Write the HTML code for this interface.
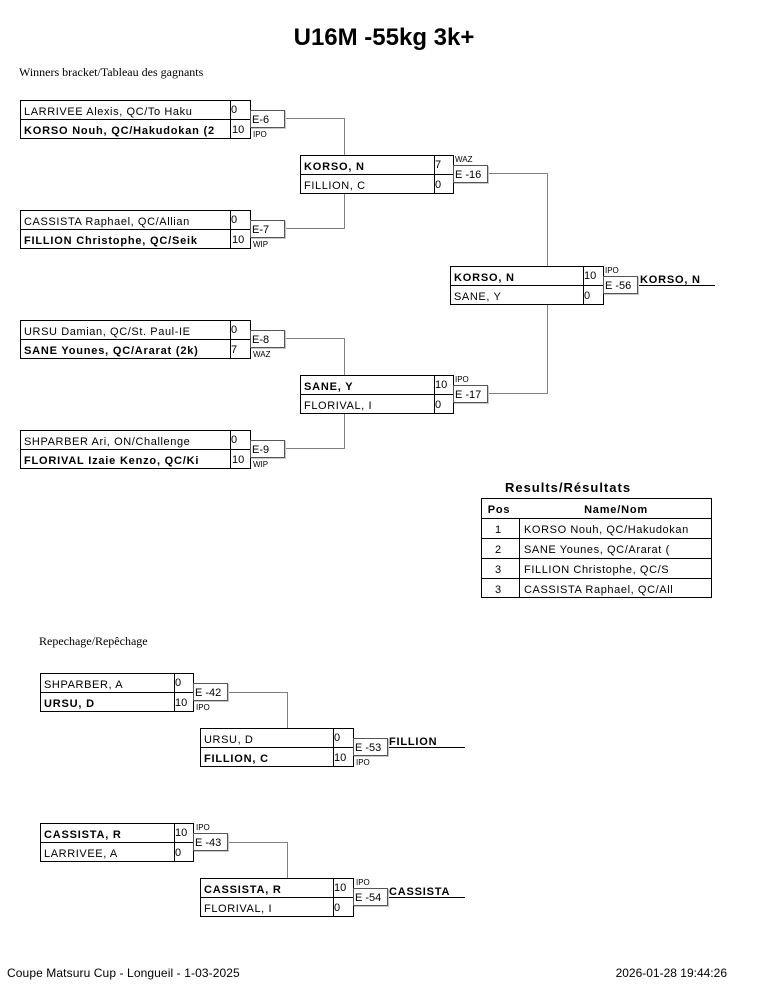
<!DOCTYPE html>
<html>
<head>
<meta charset="utf-8">
<style>
  html, body { margin:0; padding:0; background:#fff; }
  body { width:765px; height:990px; overflow:hidden; }
  svg { display:block; }
  .n { font-family:"Liberation Sans", sans-serif; font-size:11px; letter-spacing:0.6px; fill:#000; }
  .b { font-family:"Liberation Sans", sans-serif; font-size:11px; font-weight:bold; letter-spacing:0.8px; fill:#000; }
  .s { font-family:"Liberation Sans", sans-serif; font-size:11px; fill:#000; }
  .e { font-family:"Liberation Sans", sans-serif; font-size:11px; fill:#000; }
  .t { font-family:"Liberation Sans", sans-serif; font-size:8px; fill:#000; }
  .ser { font-family:"Liberation Serif", serif; font-size:12px; fill:#000; }
  .foot { font-family:"Liberation Sans", sans-serif; font-size:12px; fill:#000; }
</style>
</head>
<body>
<svg width="765" height="990" viewBox="0 0 765 990" xmlns="http://www.w3.org/2000/svg">
  <!-- Title -->
  <text x="384" y="45" text-anchor="middle" style="font-family:'Liberation Sans',sans-serif;font-size:24px;font-weight:bold;">U16M -55kg 3k+</text>
  <text x="19" y="76" class="ser">Winners bracket/Tableau des gagnants</text>

  <!-- Connectors (winners) -->
  <g stroke="#808080" stroke-width="1" fill="none">
    <polyline points="284,118.5 344.5,118.5 344.5,228.5 284,228.5"/>
    <polyline points="284,338.5 344.5,338.5 344.5,448.5 284,448.5"/>
    <polyline points="487,173.5 547.5,173.5 547.5,393.5 487,393.5"/>
    <!-- repechage -->
    <polyline points="227,692.5 287.5,692.5 287.5,728"/>
    <polyline points="227,842.5 287.5,842.5 287.5,878"/>
  </g>
  <!-- winner lines -->
  <g stroke="#000" stroke-width="1">
    <line x1="637" y1="285.5" x2="715" y2="285.5"/>
    <line x1="387" y1="747.5" x2="465" y2="747.5"/>
    <line x1="387" y1="897.5" x2="465" y2="897.5"/>
  </g>

  <!-- Round 1 boxes -->
  <g fill="#fff" stroke="#000" stroke-width="1">
    <rect x="20.5" y="100.5" width="230" height="38"/>
    <line x1="20.5" y1="119.5" x2="250.5" y2="119.5"/>
    <line x1="230.5" y1="100.5" x2="230.5" y2="138.5"/>

    <rect x="20.5" y="210.5" width="230" height="38"/>
    <line x1="20.5" y1="229.5" x2="250.5" y2="229.5"/>
    <line x1="230.5" y1="210.5" x2="230.5" y2="248.5"/>

    <rect x="20.5" y="320.5" width="230" height="38"/>
    <line x1="20.5" y1="339.5" x2="250.5" y2="339.5"/>
    <line x1="230.5" y1="320.5" x2="230.5" y2="358.5"/>

    <rect x="20.5" y="430.5" width="230" height="38"/>
    <line x1="20.5" y1="449.5" x2="250.5" y2="449.5"/>
    <line x1="230.5" y1="430.5" x2="230.5" y2="468.5"/>

    <!-- Round 2 -->
    <rect x="300.5" y="155.5" width="153" height="38"/>
    <line x1="300.5" y1="174.5" x2="453.5" y2="174.5"/>
    <line x1="434.5" y1="155.5" x2="434.5" y2="193.5"/>

    <rect x="300.5" y="375.5" width="153" height="38"/>
    <line x1="300.5" y1="394.5" x2="453.5" y2="394.5"/>
    <line x1="434.5" y1="375.5" x2="434.5" y2="413.5"/>

    <!-- Final -->
    <rect x="450.5" y="266.5" width="153" height="38"/>
    <line x1="450.5" y1="285.5" x2="603.5" y2="285.5"/>
    <line x1="583.5" y1="266.5" x2="583.5" y2="304.5"/>

    <!-- Repechage -->
    <rect x="40.5" y="673.5" width="153" height="38"/>
    <line x1="40.5" y1="692.5" x2="193.5" y2="692.5"/>
    <line x1="174.5" y1="673.5" x2="174.5" y2="711.5"/>

    <rect x="200.5" y="728.5" width="153" height="38"/>
    <line x1="200.5" y1="747.5" x2="353.5" y2="747.5"/>
    <line x1="333.5" y1="728.5" x2="333.5" y2="766.5"/>

    <rect x="40.5" y="823.5" width="153" height="38"/>
    <line x1="40.5" y1="842.5" x2="193.5" y2="842.5"/>
    <line x1="174.5" y1="823.5" x2="174.5" y2="861.5"/>

    <rect x="200.5" y="878.5" width="153" height="38"/>
    <line x1="200.5" y1="897.5" x2="353.5" y2="897.5"/>
    <line x1="333.5" y1="878.5" x2="333.5" y2="916.5"/>
  </g>

  <!-- E boxes shadows -->
  <g stroke="#c8c8c8" stroke-width="1" fill="none">
    <polyline points="285.5,111 285.5,128.5 251,128.5"/>
    <polyline points="285.5,221 285.5,238.5 251,238.5"/>
    <polyline points="285.5,331 285.5,348.5 251,348.5"/>
    <polyline points="285.5,441 285.5,458.5 251,458.5"/>
    <polyline points="488.5,166 488.5,183.5 454,183.5"/>
    <polyline points="488.5,386 488.5,403.5 454,403.5"/>
    <polyline points="638.5,277 638.5,294.5 604,294.5"/>
    <polyline points="228.5,684 228.5,701.5 194,701.5"/>
    <polyline points="388.5,739 388.5,756.5 354,756.5"/>
    <polyline points="228.5,834 228.5,851.5 194,851.5"/>
    <polyline points="388.5,889 388.5,906.5 354,906.5"/>
  </g>
  <!-- E boxes -->
  <g fill="#fff" stroke="#555" stroke-width="1">
    <rect x="250.5" y="110.5" width="34" height="17"/>
    <rect x="250.5" y="220.5" width="34" height="17"/>
    <rect x="250.5" y="330.5" width="34" height="17"/>
    <rect x="250.5" y="440.5" width="34" height="17"/>
    <rect x="453.5" y="165.5" width="34" height="17"/>
    <rect x="453.5" y="385.5" width="34" height="17"/>
    <rect x="603.5" y="276.5" width="34" height="17"/>
    <rect x="193.5" y="683.5" width="34" height="17"/>
    <rect x="353.5" y="738.5" width="34" height="17"/>
    <rect x="193.5" y="833.5" width="34" height="17"/>
    <rect x="353.5" y="888.5" width="34" height="17"/>
  </g>

  <!-- Round 1 text -->
  <text x="24" y="115" class="n">LARRIVEE Alexis, QC/To Haku</text>
  <text x="24" y="134" class="b">KORSO Nouh, QC/Hakudokan (2</text>
  <text x="231" y="113" class="s">0</text>
  <text x="232" y="133" class="s">10</text>
  <text x="252" y="123" class="e">E-6</text>
  <text x="253" y="137" class="t">IPO</text>

  <text x="24" y="225" class="n">CASSISTA Raphael, QC/Allian</text>
  <text x="24" y="244" class="b">FILLION Christophe, QC/Seik</text>
  <text x="231" y="223" class="s">0</text>
  <text x="232" y="243" class="s">10</text>
  <text x="252" y="233" class="e">E-7</text>
  <text x="253" y="247" class="t">WIP</text>

  <text x="24" y="335" class="n">URSU Damian, QC/St. Paul-IE</text>
  <text x="24" y="354" class="b">SANE Younes, QC/Ararat (2k)</text>
  <text x="231" y="333" class="s">0</text>
  <text x="231" y="353" class="s">7</text>
  <text x="252" y="343" class="e">E-8</text>
  <text x="253" y="357" class="t">WAZ</text>

  <text x="24" y="445" class="n">SHPARBER Ari, ON/Challenge</text>
  <text x="24" y="464" class="b">FLORIVAL Izaie Kenzo, QC/Ki</text>
  <text x="231" y="443" class="s">0</text>
  <text x="232" y="463" class="s">10</text>
  <text x="252" y="453" class="e">E-9</text>
  <text x="253" y="467" class="t">WIP</text>

  <!-- Round 2 text -->
  <text x="304" y="170" class="b">KORSO, N</text>
  <text x="304" y="189" class="n">FILLION, C</text>
  <text x="435" y="168" class="s">7</text>
  <text x="435" y="188" class="s">0</text>
  <text x="455" y="178" class="e">E -16</text>
  <text x="455" y="162" class="t">WAZ</text>

  <text x="304" y="390" class="b">SANE, Y</text>
  <text x="304" y="409" class="n">FLORIVAL, I</text>
  <text x="435" y="388" class="s">10</text>
  <text x="435" y="408" class="s">0</text>
  <text x="455" y="398" class="e">E -17</text>
  <text x="455" y="382" class="t">IPO</text>

  <!-- Final text -->
  <text x="454" y="281" class="b">KORSO, N</text>
  <text x="454" y="300" class="n">SANE, Y</text>
  <text x="584" y="279" class="s">10</text>
  <text x="584" y="299" class="s">0</text>
  <text x="605" y="289" class="e">E -56</text>
  <text x="605" y="273" class="t">IPO</text>
  <text x="640" y="283" class="b">KORSO, N</text>

  <!-- Results -->
  <text x="568" y="492" text-anchor="middle" style="font-family:'Liberation Sans',sans-serif;font-size:13px;font-weight:bold;letter-spacing:1px;">Results/Résultats</text>
  <g fill="#fff" stroke="#000" stroke-width="1">
    <rect x="481.5" y="498.5" width="230" height="99"/>
  </g>
  <g stroke="#000" stroke-width="1">
    <line x1="481.5" y1="518.5" x2="711.5" y2="518.5"/>
    <line x1="519.5" y1="518.5" x2="519.5" y2="597.5"/>
    <line x1="481.5" y1="538.5" x2="711.5" y2="538.5"/>
    <line x1="481.5" y1="558.5" x2="711.5" y2="558.5"/>
    <line x1="481.5" y1="578.5" x2="711.5" y2="578.5"/>
  </g>
  <text x="499" y="513" text-anchor="middle" class="b">Pos</text>
  <text x="616" y="513" text-anchor="middle" class="b">Name/Nom</text>
  <text x="498" y="533" text-anchor="middle" class="s">1</text>
  <text x="498" y="553" text-anchor="middle" class="s">2</text>
  <text x="498" y="573" text-anchor="middle" class="s">3</text>
  <text x="498" y="593" text-anchor="middle" class="s">3</text>
  <text x="524" y="533" class="n">KORSO Nouh, QC/Hakudokan</text>
  <text x="524" y="553" class="n">SANE Younes, QC/Ararat (</text>
  <text x="524" y="573" class="n">FILLION Christophe, QC/S</text>
  <text x="524" y="593" class="n">CASSISTA Raphael, QC/All</text>

  <!-- Repechage -->
  <text x="39" y="645" class="ser">Repechage/Repêchage</text>

  <text x="44" y="688" class="n">SHPARBER, A</text>
  <text x="44" y="707" class="b">URSU, D</text>
  <text x="175" y="686" class="s">0</text>
  <text x="175" y="706" class="s">10</text>
  <text x="195" y="696" class="e">E -42</text>
  <text x="196" y="710" class="t">IPO</text>

  <text x="204" y="743" class="n">URSU, D</text>
  <text x="204" y="762" class="b">FILLION, C</text>
  <text x="334" y="741" class="s">0</text>
  <text x="334" y="761" class="s">10</text>
  <text x="355" y="751" class="e">E -53</text>
  <text x="356" y="765" class="t">IPO</text>
  <text x="389" y="745" class="b">FILLION</text>

  <text x="44" y="838" class="b">CASSISTA, R</text>
  <text x="44" y="857" class="n">LARRIVEE, A</text>
  <text x="175" y="836" class="s">10</text>
  <text x="175" y="856" class="s">0</text>
  <text x="195" y="846" class="e">E -43</text>
  <text x="196" y="830" class="t">IPO</text>

  <text x="204" y="893" class="b">CASSISTA, R</text>
  <text x="204" y="912" class="n">FLORIVAL, I</text>
  <text x="334" y="891" class="s">10</text>
  <text x="334" y="911" class="s">0</text>
  <text x="355" y="901" class="e">E -54</text>
  <text x="356" y="885" class="t">IPO</text>
  <text x="389" y="895" class="b">CASSISTA</text>

  <!-- Footer -->
  <text x="7" y="977" class="foot" style="letter-spacing:0.1px;">Coupe Matsuru Cup - Longueil - 1-03-2025</text>
  <text x="727" y="977" text-anchor="end" class="foot">2026-01-28 19:44:26</text>
</svg>
</body>
</html>
